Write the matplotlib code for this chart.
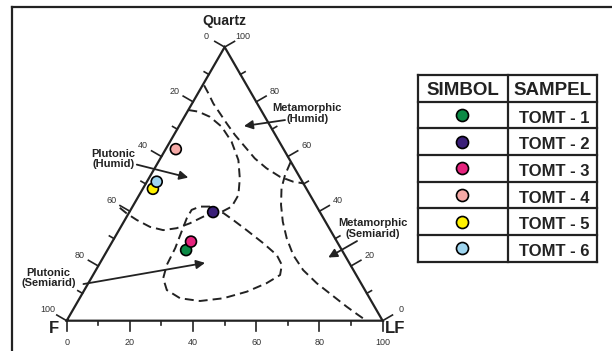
import numpy as np
import matplotlib
matplotlib.use("Agg")
import matplotlib.pyplot as plt
from matplotlib.lines import Line2D

plt.rcParams['font.family'] = ['Liberation Sans', 'DejaVu Sans']

# sample compositions in %: quartz, feldspar, lithic fragments
samples = ["TOMT - 1", "TOMT - 2", "TOMT - 3", "TOMT - 4", "TOMT - 5", "TOMT - 6"]
q_pct = [25.8, 39.7, 28.9, 62.7, 48.2, 50.8]
f_pct = [49.3, 33.8, 46.2, 34.1, 48.6, 46.1]
lf_pct = [24.9, 26.5, 24.9, 3.2, 3.2, 3.1]
colors = ["#0b8a45", "#3a1f78", "#e5237d", "#f5a9a6", "#fff200", "#9fd5ef"]

# field boundaries, given as (Q %, LF %)
met_humid_q = [86.0, 83.1, 79.4, 75.8, 72.1, 67.9, 63.6, 59.3, 55.7, 52.6, 50.8, 50.2]
met_humid_lf = [0.5, 3.3, 6.7, 10.6, 14.6, 19.3, 24.6, 29.9, 35.4, 41.2, 46.3, 49.8]

plut_humid_q = [77.0, 76.4, 74.5, 70.9, 65.4, 58.7, 52.0, 45.9, 41.7, 39.8, 39.6, 38.0,
                35.6, 33.8, 33.1, 34.3, 36.8, 39.2, 41.7]
plut_humid_lf = [0.0, 3.5, 8.1, 13.6, 19.5, 25.0, 28.8, 31.4, 31.4, 29.2, 26.6, 24.2,
                 21.2, 17.9, 14.0, 9.2, 3.8, -0.6, -4.5]

plut_semi_q = [41.7, 41.7, 40.5, 37.4, 32.5, 26.5, 20.4, 15.5, 11.2, 8.2, 7.2, 8.2, 10.6,
               13.7, 16.7, 20.4, 24.0, 28.3, 33.1, 36.8, 39.3, 40.5, 41.7]
plut_semi_lf = [24.5, 21.3, 19.3, 19.3, 20.1, 21.1, 21.5, 22.8, 26.1, 31.8, 38.6, 45.5, 51.7,
                56.4, 59.2, 57.9, 54.5, 48.1, 40.4, 34.3, 30.0, 26.2, 24.5]

met_semi_q = [57.9, 53.2, 48.4, 42.3, 36.2, 30.1, 24.0, 18.5, 13.7, 9.4, 5.1, 2.1, 0.0]
met_semi_lf = [41.9, 42.5, 43.8, 46.7, 50.3, 54.6, 59.7, 65.6, 72.3, 79.2, 86.1, 91.2, 94.9]

tick_vals = [0, 20, 40, 60, 80, 100]

H = np.sqrt(3) / 2
ink = "#222222"


def tern(q, lf):
    q = np.asarray(q, float)
    lf = np.asarray(lf, float)
    return lf + q / 2, q * H


fig = plt.figure(figsize=(6.12, 3.51), dpi=100)
ax = fig.add_axes([0, 0, 1, 1])
ax.set_xlim(-21.1, 172.6)
ax.set_ylim(-9.59, 101.5)
ax.axis("off")

# outer frame (only top and left visible)
fig.add_artist(Line2D([12 / 612, 12 / 612], [0, 1 - 6.5 / 351], color=ink, lw=1.6))
fig.add_artist(Line2D([12 / 612, 1], [1 - 6.5 / 351, 1 - 6.5 / 351], color=ink, lw=1.6))

# triangle
A = np.array([50, 100 * H])   # Quartz
Fv = np.array([0, 0])
L = np.array([100, 0])
ax.plot([Fv[0], L[0], A[0], Fv[0]], [Fv[1], L[1], A[1], Fv[1]], color=ink, lw=1.6,
        solid_joinstyle="miter")

# ticks
nl = np.array([-H, 0.5])   # outward normal of left side
nr = np.array([H, 0.5])    # outward normal of right side
nb = np.array([0, -1.0])
for v in range(0, 101, 10):
    big = v % 20 == 0
    tl = 3.6 if big else 1.7
    # left side: 0 at apex -> 100 at F
    p = A + v / 100 * (Fv - A)
    ax.plot([p[0], p[0] + tl * nl[0]], [p[1], p[1] + tl * nl[1]], color=ink, lw=1.2)
    # right side: 100 at apex -> 0 at LF
    p = A + v / 100 * (L - A)
    ax.plot([p[0], p[0] + tl * nr[0]], [p[1], p[1] + tl * nr[1]], color=ink, lw=1.2)
    # base
    p = Fv + v / 100 * (L - Fv)
    ax.plot([p[0], p[0]], [p[1], p[1] - (3.4 if big else 1.5)], color=ink, lw=1.2)

d = 6.8
for v in tick_vals:
    p = A + v / 100 * (Fv - A) + d * nl
    ax.text(p[0], p[1], str(v), fontsize=6.5, color="#333", ha="center", va="center")
    p = A + v / 100 * (L - A) + d * nr
    ax.text(p[0], p[1], str(100 - v), fontsize=6.5, color="#333", ha="center", va="center")
    p = Fv + v / 100 * (L - Fv) + d * nb
    ax.text(p[0], p[1], str(v), fontsize=6.5, color="#333", ha="center", va="center")

ax.text(49.8, 94.8, "Quartz", fontsize=10, fontweight="bold", ha="center", va="center", color=ink)
ax.text(-3.9, -2.6, "F", fontsize=12, fontweight="bold", ha="center", va="center", color=ink)
ax.text(103.9, -2.6, "LF", fontsize=12, fontweight="bold", ha="center", va="center", color=ink)

# field boundaries
dash = (0, (4.6, 2.6))
for qq, ll in [(met_humid_q, met_humid_lf), (plut_humid_q, plut_humid_lf),
               (plut_semi_q, plut_semi_lf), (met_semi_q, met_semi_lf)]:
    x, y = tern(qq, ll)
    ax.plot(x, y, color=ink, lw=1.4, linestyle=dash, dash_capstyle="butt")

# field labels and arrows
fields = [("Metamorphic\n(Humid)", (76.1, 65.7), (69.1, 63.5), (56.1, 61.6)),
          ("Plutonic\n(Humid)", (14.7, 51.2), (22.2, 49.4), (38.5, 45.3)),
          ("Metamorphic\n(Semiarid)", (96.9, 29.3), (91.9, 25.2), (82.8, 20.0)),
          ("Plutonic\n(Semiarid)", (-5.8, 13.5), (5.3, 11.6), (43.8, 18.3))]
for txt, tp, tail, head in fields:
    ax.text(tp[0], tp[1], txt, fontsize=8, fontweight="bold", ha="center", va="center",
            color=ink, linespacing=1.1)
    ax.annotate("", xy=head, xytext=tail,
                arrowprops=dict(arrowstyle="-|>", color=ink, lw=1.3, mutation_scale=13,
                                shrinkA=0, shrinkB=0))

# samples
sx, sy = tern(q_pct, lf_pct)
ax.scatter(sx, sy, s=62, c=colors, edgecolors="black", linewidths=1.2, zorder=5)

# legend table
tb = fig.add_axes([418.3 / 612, (351 - 261.7) / 351, 179 / 612, 186.7 / 351])
tb.set_xlim(0, 179)
tb.set_ylim(186.7, 0)
tb.axis("off")
rh = 186.7 / 7
for i in range(8):
    tb.plot([0, 179], [i * rh, i * rh], color=ink, lw=1.6, clip_on=False,
            solid_capstyle="projecting")
for xv in [0, 90, 179]:
    tb.plot([xv, xv], [0, 186.7], color=ink, lw=1.6, clip_on=False,
            solid_capstyle="projecting")
tb.text(45, 13.3 + 6.5, "SIMBOL", fontsize=13.5, fontweight="bold", ha="center",
        va="baseline", color=ink)
tb.text(134.5, 13.3 + 6.5, "SAMPEL", fontsize=13.5, fontweight="bold", ha="center",
        va="baseline", color=ink)
for i, (name, col) in enumerate(zip(samples, colors)):
    yc = (i + 1.5) * rh
    tb.scatter([43.4], [yc], s=75, c=[col], edgecolors="black", linewidths=1.2, zorder=5)
    tb.text(135.5, yc + 7.5, name, fontsize=12, fontweight="bold", ha="center",
            va="baseline", color=ink)

fig.savefig("out.png", dpi=100, facecolor="white")
